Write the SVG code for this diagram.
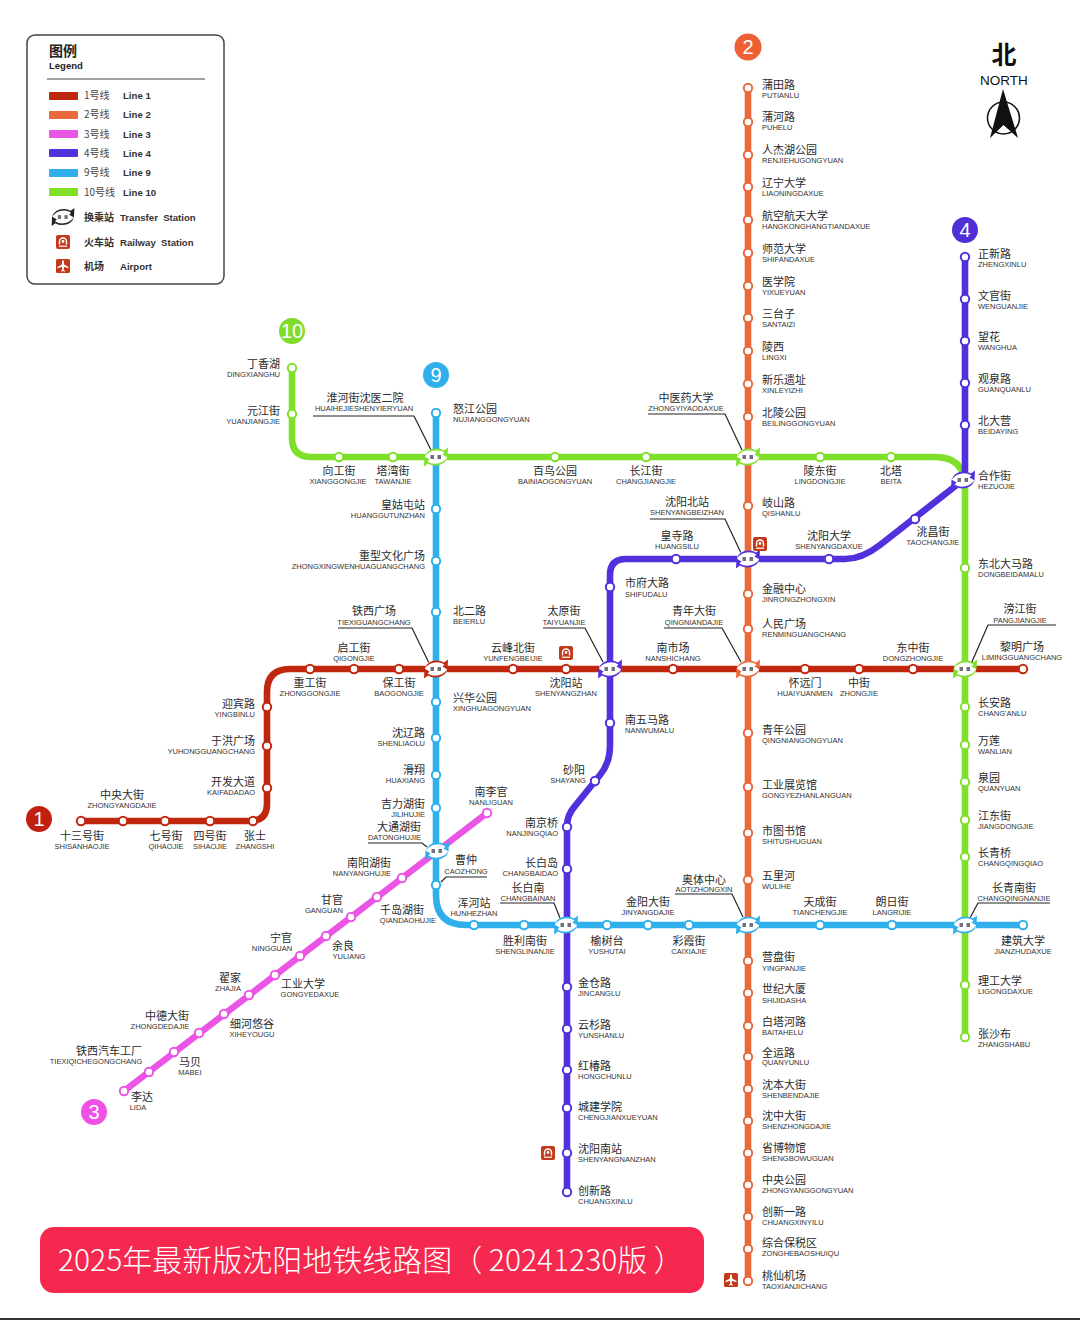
<svg xmlns="http://www.w3.org/2000/svg" width="1080" height="1320" viewBox="0 0 1080 1320">
<style>
text{font-family:"Liberation Sans","Noto Sans CJK SC",sans-serif}
.c{font-family:"Noto Sans CJK SC",sans-serif;font-size:11px;fill:#2a2a2a}
.e{font-size:7.5px;fill:#333}
.m{text-anchor:middle}.r{text-anchor:end}
.l{fill:none;stroke-width:6.600;stroke-linecap:round;stroke-linejoin:round}
.ld{fill:none;stroke:#222;stroke-width:1.200}
.s{fill:#fff;stroke-width:2}
.n1{stroke:#c0270f}.n2{stroke:#e9693c}.n3{stroke:#ea55e6}.n4{stroke:#5230dc}.n9{stroke:#2fb0ec}.n10{stroke:#7fe02c}
.k1{color:#c0270f}.k2{color:#e9693c}.k3{color:#ea55e6}.k4{color:#5230dc}.k9{color:#2fb0ec}.k10{color:#7fe02c}.k0{color:#222}
.b{font-size:20px;fill:#fff;text-anchor:middle}
.lg{font-family:"Noto Sans CJK SC",sans-serif;font-size:10px;fill:#444}
.lb{font-size:9.600px;font-weight:bold;fill:#333}
.lc{font-family:"Noto Sans CJK SC",sans-serif;font-size:10px;font-weight:bold;fill:#333}
</style>
<defs>
<path id="sw" d="M-11.500 0Q-9-8.500 1-8.500Q5-8.500 8-6.500L12-9.500L11.500 0.500L6.500-2.500L8.500-4.500Q5-6.800 1-6.800Q-7-6.800-11.500 0Z" fill="currentColor"/>
<g id="xf">
<rect x="-11" y="-7.500" width="22" height="15" rx="7" fill="#fff"/>
<use href="#sw"/>
<use href="#sw" transform="rotate(180)"/>
<rect x="-5.500" y="-2" width="3.500" height="4" fill="#334" opacity=".7"/>
<rect x="1.500" y="-2" width="3.500" height="4" fill="#334" opacity=".7"/>
</g>
<g id="rail">
<rect x="-7" y="-7" width="14" height="14" rx="2" fill="#c23a1c"/>
<path d="M-3.500 2.500V-0.500A3.500 3.500 0 0 1 3.500-0.500V2.500" fill="none" stroke="#fff" stroke-width="1.400"/>
<circle r="1.400" cy="-0.500" fill="#fff"/>
<path d="M-4 4.200H4" stroke="#fff" stroke-width="1.200"/>
</g>
<g id="air">
<rect x="-7" y="-7" width="14" height="14" rx="1.500" fill="#c23a1c"/>
<path d="M-0.800-5.500H0.800L1.100-1.500L5.500 1V2.300L1 0.800L0.700 3.800L2 5V5.700L0 5L-2 5.700V5L-0.700 3.800L-1 0.800L-5.500 2.300V1L-1.100-1.500Z" fill="#fff"/>
</g>
</defs>
<rect width="1080" height="1320" fill="#fff"/>
<rect y="1318" width="1080" height="2" fill="#333"/>

<g id="legend">
<rect x="27" y="35" width="197" height="249" rx="8" fill="#fff" stroke="#444" stroke-width="1.500"/>
<text x="49" y="56" style="font-family:'Noto Sans CJK SC',sans-serif;font-size:14px;font-weight:bold;fill:#222">图例</text>
<text x="49" y="68.500" style="font-size:9.500px;font-weight:bold;fill:#222">Legend</text>
<path d="M47 79H205" stroke="#444" stroke-width="1.200"/>
<rect x="49" y="92" width="29" height="8" rx="1" fill="#c0270f"/><text class="lg" x="84" y="99">1号线</text><text class="lb" x="123" y="99">Line 1</text>
<rect x="49" y="111" width="29" height="8" rx="1" fill="#e9693c"/><text class="lg" x="84" y="118">2号线</text><text class="lb" x="123" y="118">Line 2</text>
<rect x="49" y="130" width="29" height="8" rx="1" fill="#ea55e6"/><text class="lg" x="84" y="138">3号线</text><text class="lb" x="123" y="138">Line 3</text>
<rect x="49" y="149" width="29" height="8" rx="1" fill="#5230dc"/><text class="lg" x="84" y="157">4号线</text><text class="lb" x="123" y="157">Line 4</text>
<rect x="49" y="169" width="29" height="8" rx="1" fill="#2fb0ec"/><text class="lg" x="84" y="176">9号线</text><text class="lb" x="123" y="176">Line 9</text>
<rect x="49" y="188" width="29" height="8" rx="1" fill="#7fe02c"/><text class="lg" x="84" y="196">10号线</text><text class="lb" x="123" y="196">Line 10</text>
<use href="#xf" class="k0" transform="translate(63,217) scale(.95)"/>
<text class="lc" x="84" y="221">换乘站</text><text class="lb" x="120" y="221" xml:space="preserve">Transfer  Station</text>
<use href="#rail" transform="translate(63,242)"/>
<text class="lc" x="84" y="246">火车站</text><text class="lb" x="120" y="246" xml:space="preserve">Railway  Station</text>
<use href="#air" transform="translate(63,266)"/>
<text class="lc" x="84" y="270">机场</text><text class="lb" x="120" y="270">Airport</text>
</g>

<g id="north">
<text x="1004" y="63.500" text-anchor="middle" style="font-family:'Noto Sans CJK SC',sans-serif;font-size:25px;font-weight:bold;fill:#111">北</text>
<text x="1004" y="84.500" text-anchor="middle" style="font-size:13.500px;fill:#111">NORTH</text>
<circle cx="1003.500" cy="118" r="16" fill="none" stroke="#111" stroke-width="1.500"/>
<path d="M1003 89L990 138L1003.500 125L1018 138Z" fill="#111"/>
</g>

<g id="connectors">
<path class="l n3" d="M124 1091L487 813"/>
<path class="l n1" d="M81 821H250Q267 821 267 804V692Q267 669 290 669H1023"/>
<path class="l n2" d="M748 88V1281"/>
<path class="l n10" d="M292 368V438Q292 457 312 457H935Q965 457 965 487V1037"/>
<path class="l n9" d="M436 413V895Q436 925 466 925H1023"/>
<path class="l n4" d="M965 257V470Q965 478 958 484L880 545Q862 559 845 559H626Q610 559 610 575V745Q610 763 600 775L575 806Q567 815 567 826V1192"/>
<g id="leaders">
<path class="ld" d="M313 416H414L431 450"/>
<path class="ld" d="M648 414H725L742 450"/>
<path class="ld" d="M650 519H725L741 553"/>
<path class="ld" d="M338 628H412L429 663"/>
<path class="ld" d="M543 628H585L603 662"/>
<path class="ld" d="M664 628H722L741 662"/>
<path class="ld" d="M368 843H422L427 847"/>
<path class="ld" d="M487 877H446L441 882"/>
<path class="ld" d="M500 903H554L560 918"/>
<path class="ld" d="M675 894H732L743 917"/>
<path class="ld" d="M1056 625H988L971 664"/>
<path class="ld" d="M1050 903H978L970 918"/>
</g>
</g>

<g id="badges">
<circle cx="748" cy="47" r="13.500" fill="#ee5f33"/><text class="b" x="748" y="54">2</text>
<circle cx="965" cy="230" r="13" fill="#4f2fd8"/><text class="b" x="965" y="237">4</text>
<circle cx="292" cy="331" r="13" fill="#7fdc2a"/><text class="b" x="292" y="338">10</text>
<circle cx="436" cy="375" r="13" fill="#2fb0ec"/><text class="b" x="436" y="382">9</text>
<circle cx="39" cy="819" r="13" fill="#c0200f"/><text class="b" x="39" y="826">1</text>
<circle cx="94" cy="1112" r="13" fill="#ef50e6"/><text class="b" x="94" y="1119">3</text>
</g>

<g id="line2">
<g id="s-putianlu"><circle class="s n2" cx="748" cy="88" r="4.200"/><text class="c" x="762" y="89">蒲田路</text><text class="e" x="762" y="98">PUTIANLU</text></g>
<g id="s-puhelu"><circle class="s n2" cx="748" cy="122" r="4.200"/><text class="c" x="762" y="121">蒲河路</text><text class="e" x="762" y="130">PUHELU</text></g>
<g id="s-renjiehu"><circle class="s n2" cx="748" cy="155" r="4.200"/><text class="c" x="762" y="154">人杰湖公园</text><text class="e" x="762" y="163">RENJIEHUGONGYUAN</text></g>
<g id="s-liaoning"><circle class="s n2" cx="748" cy="187" r="4.200"/><text class="c" x="762" y="187">辽宁大学</text><text class="e" x="762" y="196">LIAONINGDAXUE</text></g>
<g id="s-hangkong"><circle class="s n2" cx="748" cy="220" r="4.200"/><text class="c" x="762" y="220">航空航天大学</text><text class="e" x="762" y="229">HANGKONGHANGTIANDAXUE</text></g>
<g id="s-shifan"><circle class="s n2" cx="748" cy="253" r="4.200"/><text class="c" x="762" y="253">师范大学</text><text class="e" x="762" y="262">SHIFANDAXUE</text></g>
<g id="s-yixueyuan"><circle class="s n2" cx="748" cy="286" r="4.200"/><text class="c" x="762" y="286">医学院</text><text class="e" x="762" y="295">YIXUEYUAN</text></g>
<g id="s-santaizi"><circle class="s n2" cx="748" cy="318" r="4.200"/><text class="c" x="762" y="318">三台子</text><text class="e" x="762" y="327">SANTAIZI</text></g>
<g id="s-lingxi"><circle class="s n2" cx="748" cy="351" r="4.200"/><text class="c" x="762" y="351">陵西</text><text class="e" x="762" y="360">LINGXI</text></g>
<g id="s-xinle"><circle class="s n2" cx="748" cy="384" r="4.200"/><text class="c" x="762" y="384">新乐遗址</text><text class="e" x="762" y="393">XINLEYIZHI</text></g>
<g id="s-beiling"><circle class="s n2" cx="748" cy="417" r="4.200"/><text class="c" x="762" y="417">北陵公园</text><text class="e" x="762" y="426">BEILINGGONGYUAN</text></g>
<g id="s-qishan"><circle class="s n2" cx="748" cy="506" r="4.200"/><text class="c" x="762" y="507">岐山路</text><text class="e" x="762" y="516">QISHANLU</text></g>
<g id="s-jinrong"><circle class="s n2" cx="748" cy="594" r="4.200"/><text class="c" x="762" y="593">金融中心</text><text class="e" x="762" y="602">JINRONGZHONGXIN</text></g>
<g id="s-renmin"><circle class="s n2" cx="748" cy="629" r="4.200"/><text class="c" x="762" y="628">人民广场</text><text class="e" x="762" y="637">RENMINGUANGCHANG</text></g>
<g id="s-qingnian"><circle class="s n2" cx="748" cy="733" r="4.200"/><text class="c" x="762" y="734">青年公园</text><text class="e" x="762" y="743">QINGNIANGONGYUAN</text></g>
<g id="s-gongye"><circle class="s n2" cx="748" cy="787" r="4.200"/><text class="c" x="762" y="789">工业展览馆</text><text class="e" x="762" y="798">GONGYEZHANLANGUAN</text></g>
<g id="s-shitu"><circle class="s n2" cx="748" cy="833" r="4.200"/><text class="c" x="762" y="835">市图书馆</text><text class="e" x="762" y="844">SHITUSHUGUAN</text></g>
<g id="s-wulihe"><circle class="s n2" cx="748" cy="880" r="4.200"/><text class="c" x="762" y="880">五里河</text><text class="e" x="762" y="889">WULIHE</text></g>
<g id="s-yingpan"><circle class="s n2" cx="748" cy="961" r="4.200"/><text class="c" x="762" y="961">营盘街</text><text class="e" x="762" y="971">YINGPANJIE</text></g>
<g id="s-shiji"><circle class="s n2" cx="748" cy="993" r="4.200"/><text class="c" x="762" y="993">世纪大厦</text><text class="e" x="762" y="1003">SHIJIDASHA</text></g>
<g id="s-baita"><circle class="s n2" cx="748" cy="1026" r="4.200"/><text class="c" x="762" y="1026">白塔河路</text><text class="e" x="762" y="1035">BAITAHELU</text></g>
<g id="s-quanyun"><circle class="s n2" cx="748" cy="1057" r="4.200"/><text class="c" x="762" y="1057">全运路</text><text class="e" x="762" y="1065">QUANYUNLU</text></g>
<g id="s-shenben"><circle class="s n2" cx="748" cy="1089" r="4.200"/><text class="c" x="762" y="1089">沈本大街</text><text class="e" x="762" y="1098">SHENBENDAJIE</text></g>
<g id="s-shenzhong"><circle class="s n2" cx="748" cy="1121" r="4.200"/><text class="c" x="762" y="1120">沈中大街</text><text class="e" x="762" y="1129">SHENZHONGDAJIE</text></g>
<g id="s-shengbo"><circle class="s n2" cx="748" cy="1153" r="4.200"/><text class="c" x="762" y="1152">省博物馆</text><text class="e" x="762" y="1161">SHENGBOWUGUAN</text></g>
<g id="s-zhongyang"><circle class="s n2" cx="748" cy="1185" r="4.200"/><text class="c" x="762" y="1184">中央公园</text><text class="e" x="762" y="1193">ZHONGYANGGONGYUAN</text></g>
<g id="s-chuangxin1"><circle class="s n2" cx="748" cy="1217" r="4.200"/><text class="c" x="762" y="1216">创新一路</text><text class="e" x="762" y="1225">CHUANGXINYILU</text></g>
<g id="s-zonghe"><circle class="s n2" cx="748" cy="1249" r="4.200"/><text class="c" x="762" y="1247">综合保税区</text><text class="e" x="762" y="1256">ZONGHEBAOSHUIQU</text></g>
<g id="s-taoxian"><circle class="s n2" cx="748" cy="1281" r="4.200"/><text class="c" x="762" y="1280">桃仙机场</text><text class="e" x="762" y="1289">TAOXIANJICHANG</text></g>
</g>

<g id="line4">
<g id="s-zhengxin"><circle class="s n4" cx="965" cy="257" r="4.200"/><text class="c" x="978" y="258">正新路</text><text class="e" x="978" y="267">ZHENGXINLU</text></g>
<g id="s-wenguan"><circle class="s n4" cx="965" cy="299" r="4.200"/><text class="c" x="978" y="300">文官街</text><text class="e" x="978" y="309">WENGUANJIE</text></g>
<g id="s-wanghua"><circle class="s n4" cx="965" cy="341" r="4.200"/><text class="c" x="978" y="341">望花</text><text class="e" x="978" y="350">WANGHUA</text></g>
<g id="s-guanquan"><circle class="s n4" cx="965" cy="383" r="4.200"/><text class="c" x="978" y="383">观泉路</text><text class="e" x="978" y="392">GUANQUANLU</text></g>
<g id="s-beidaying"><circle class="s n4" cx="965" cy="425" r="4.200"/><text class="c" x="978" y="425">北大营</text><text class="e" x="978" y="434">BEIDAYING</text></g>
<g id="s-taochang"><circle class="s n4" cx="915" cy="519" r="4.200"/><text class="c m" x="933" y="536">洮昌街</text><text class="e m" x="933" y="545">TAOCHANGJIE</text></g>
<g id="s-shenda"><circle class="s n4" cx="829" cy="559" r="4.200"/><text class="c m" x="829" y="540">沈阳大学</text><text class="e m" x="829" y="549">SHENYANGDAXUE</text></g>
<g id="s-huangsi"><circle class="s n4" cx="676" cy="559" r="4.200"/><text class="c m" x="677" y="540">皇寺路</text><text class="e m" x="677" y="549">HUANGSILU</text></g>
<g id="s-shifu"><circle class="s n4" cx="610" cy="587" r="4.200"/><text class="c" x="625" y="587">市府大路</text><text class="e" x="625" y="597">SHIFUDALU</text></g>
<g id="s-nanwuma"><circle class="s n4" cx="610" cy="723" r="4.200"/><text class="c" x="625" y="724">南五马路</text><text class="e" x="625" y="733">NANWUMALU</text></g>
<g id="s-shayang"><circle class="s n4" cx="595" cy="781" r="4.200"/><text class="c m" x="574" y="774">砂阳</text><text class="e m" x="568" y="783">SHAYANG</text></g>
<g id="s-nanjingqiao"><circle class="s n4" cx="567" cy="827" r="4.200"/><text class="c r" x="558" y="827">南京桥</text><text class="e r" x="558" y="836">NANJINGQIAO</text></g>
<g id="s-changbaidao"><circle class="s n4" cx="567" cy="869" r="4.200"/><text class="c r" x="558" y="867">长白岛</text><text class="e r" x="558" y="876">CHANGBAIDAO</text></g>
<g id="s-jincang"><circle class="s n4" cx="567" cy="987" r="4.200"/><text class="c" x="578" y="987">金仓路</text><text class="e" x="578" y="996">JINCANGLU</text></g>
<g id="s-yunshan"><circle class="s n4" cx="567" cy="1029" r="4.200"/><text class="c" x="578" y="1029">云杉路</text><text class="e" x="578" y="1038">YUNSHANLU</text></g>
<g id="s-hongchun"><circle class="s n4" cx="567" cy="1070" r="4.200"/><text class="c" x="578" y="1070">红椿路</text><text class="e" x="578" y="1079">HONGCHUNLU</text></g>
<g id="s-chengjian"><circle class="s n4" cx="567" cy="1108" r="4.200"/><text class="c" x="578" y="1111">城建学院</text><text class="e" x="578" y="1120">CHENGJIANXUEYUAN</text></g>
<g id="s-shenyangnan"><circle class="s n4" cx="567" cy="1153" r="4.200"/><text class="c" x="578" y="1153">沈阳南站</text><text class="e" x="578" y="1162">SHENYANGNANZHAN</text></g>
<g id="s-chuangxinlu"><circle class="s n4" cx="567" cy="1192" r="4.200"/><text class="c" x="578" y="1195">创新路</text><text class="e" x="578" y="1204">CHUANGXINLU</text></g>
</g>

<g id="line10">
<g id="s-dingxiang"><circle class="s n10" cx="292" cy="368" r="4.200"/><text class="c r" x="280" y="368">丁香湖</text><text class="e r" x="280" y="377">DINGXIANGHU</text></g>
<g id="s-yuanjiang"><circle class="s n10" cx="292" cy="414" r="4.200"/><text class="c r" x="280" y="415">元江街</text><text class="e r" x="280" y="424">YUANJIANGJIE</text></g>
<g id="s-xianggong"><circle class="s n10" cx="339" cy="457" r="4.200"/><text class="c m" x="339" y="475">向工街</text><text class="e m" x="338" y="484">XIANGGONGJIE</text></g>
<g id="s-tawan"><circle class="s n10" cx="393" cy="457" r="4.200"/><text class="c m" x="393" y="475">塔湾街</text><text class="e m" x="393" y="484">TAWANJIE</text></g>
<g id="s-bainiao"><circle class="s n10" cx="555" cy="457" r="4.200"/><text class="c m" x="555" y="475">百鸟公园</text><text class="e m" x="555" y="484">BAINIAOGONGYUAN</text></g>
<g id="s-changjiang"><circle class="s n10" cx="646" cy="457" r="4.200"/><text class="c m" x="646" y="475">长江街</text><text class="e m" x="646" y="484">CHANGJIANGJIE</text></g>
<g id="s-lingdong"><circle class="s n10" cx="820" cy="457" r="4.200"/><text class="c m" x="820" y="475">陵东街</text><text class="e m" x="820" y="484">LINGDONGJIE</text></g>
<g id="s-beita"><circle class="s n10" cx="891" cy="457" r="4.200"/><text class="c m" x="891" y="475">北塔</text><text class="e m" x="891" y="484">BEITA</text></g>
<g id="s-dongbei"><circle class="s n10" cx="965" cy="568" r="4.200"/><text class="c" x="978" y="568">东北大马路</text><text class="e" x="978" y="577">DONGBEIDAMALU</text></g>
<g id="s-changan"><circle class="s n10" cx="965" cy="707" r="4.200"/><text class="c" x="978" y="707">长安路</text><text class="e" x="978" y="716">CHANG'ANLU</text></g>
<g id="s-wanlian"><circle class="s n10" cx="965" cy="745" r="4.200"/><text class="c" x="978" y="745">万莲</text><text class="e" x="978" y="754">WANLIAN</text></g>
<g id="s-quanyuan"><circle class="s n10" cx="965" cy="782" r="4.200"/><text class="c" x="978" y="782">泉园</text><text class="e" x="978" y="791">QUANYUAN</text></g>
<g id="s-jiangdong"><circle class="s n10" cx="965" cy="820" r="4.200"/><text class="c" x="978" y="820">江东街</text><text class="e" x="978" y="829">JIANGDONGJIE</text></g>
<g id="s-changqing"><circle class="s n10" cx="965" cy="857" r="4.200"/><text class="c" x="978" y="857">长青桥</text><text class="e" x="978" y="866">CHANGQINGQIAO</text></g>
<g id="s-ligong"><circle class="s n10" cx="965" cy="985" r="4.200"/><text class="c" x="978" y="985">理工大学</text><text class="e" x="978" y="994">LIGONGDAXUE</text></g>
<g id="s-zhangshabu"><circle class="s n10" cx="965" cy="1037" r="4.200"/><text class="c" x="978" y="1038">张沙布</text><text class="e" x="978" y="1047">ZHANGSHABU</text></g>
</g>

<g id="line1">
<g id="s-shisan"><circle class="s n1" cx="81" cy="821" r="4.200"/><text class="c m" x="82" y="840">十三号街</text><text class="e m" x="82" y="849">SHISANHAOJIE</text></g>
<g id="s-zhongyangdj"><circle class="s n1" cx="123" cy="821" r="4.200"/><text class="c m" x="122" y="799">中央大街</text><text class="e m" x="122" y="808">ZHONGYANGDAJIE</text></g>
<g id="s-qihao"><circle class="s n1" cx="165" cy="821" r="4.200"/><text class="c m" x="166" y="840">七号街</text><text class="e m" x="166" y="849">QIHAOJIE</text></g>
<g id="s-sihao"><circle class="s n1" cx="210" cy="821" r="4.200"/><text class="c m" x="210" y="840">四号街</text><text class="e m" x="210" y="849">SIHAOJIE</text></g>
<g id="s-zhangshi"><circle class="s n1" cx="253" cy="821" r="4.200"/><text class="c m" x="255" y="840">张士</text><text class="e m" x="255" y="849">ZHANGSHI</text></g>
<g id="s-kaifa"><circle class="s n1" cx="267" cy="788" r="4.200"/><text class="c r" x="255" y="786">开发大道</text><text class="e r" x="255" y="795">KAIFADADAO</text></g>
<g id="s-yuhong"><circle class="s n1" cx="267" cy="746" r="4.200"/><text class="c r" x="255" y="745">于洪广场</text><text class="e r" x="255" y="754">YUHONGGUANGCHANG</text></g>
<g id="s-yingbin"><circle class="s n1" cx="267" cy="707" r="4.200"/><text class="c r" x="255" y="708">迎宾路</text><text class="e r" x="255" y="717">YINGBINLU</text></g>
<g id="s-zhonggong"><circle class="s n1" cx="310" cy="669" r="4.200"/><text class="c m" x="310" y="687">重工街</text><text class="e m" x="310" y="696">ZHONGGONGJIE</text></g>
<g id="s-qigong"><circle class="s n1" cx="354" cy="669" r="4.200"/><text class="c m" x="354" y="652">启工街</text><text class="e m" x="354" y="661">QIGONGJIE</text></g>
<g id="s-baogong"><circle class="s n1" cx="399" cy="669" r="4.200"/><text class="c m" x="399" y="687">保工街</text><text class="e m" x="399" y="696">BAOGONGJIE</text></g>
<g id="s-yunfeng"><circle class="s n1" cx="513" cy="669" r="4.200"/><text class="c m" x="513" y="652">云峰北街</text><text class="e m" x="513" y="661">YUNFENGBEIJIE</text></g>
<g id="s-shenyangzhan"><circle class="s n1" cx="566" cy="669" r="4.200"/><text class="c m" x="566" y="687">沈阳站</text><text class="e m" x="566" y="696">SHENYANGZHAN</text></g>
<g id="s-nanshichang"><circle class="s n1" cx="673" cy="669" r="4.200"/><text class="c m" x="673" y="652">南市场</text><text class="e m" x="673" y="661">NANSHICHANG</text></g>
<g id="s-huaiyuan"><circle class="s n1" cx="805" cy="669" r="4.200"/><text class="c m" x="805" y="687">怀远门</text><text class="e m" x="805" y="696">HUAIYUANMEN</text></g>
<g id="s-zhongjie"><circle class="s n1" cx="859" cy="669" r="4.200"/><text class="c m" x="859" y="687">中街</text><text class="e m" x="859" y="696">ZHONGJIE</text></g>
<g id="s-dongzhong"><circle class="s n1" cx="913" cy="669" r="4.200"/><text class="c m" x="913" y="652">东中街</text><text class="e m" x="913" y="661">DONGZHONGJIE</text></g>
<g id="s-liming"><circle class="s n1" cx="1023" cy="669" r="4.200"/><text class="c m" x="1022" y="651">黎明广场</text><text class="e m" x="1022" y="660">LIMINGGUANGCHANG</text></g>
</g>

<g id="line9">
<g id="s-nujiang"><circle class="s n9" cx="436" cy="413" r="4.200"/><text class="c" x="453" y="413">怒江公园</text><text class="e" x="453" y="422">NUJIANGGONGYUAN</text></g>
<g id="s-huanggu"><circle class="s n9" cx="436" cy="509" r="4.200"/><text class="c r" x="425" y="509">皇姑屯站</text><text class="e r" x="425" y="518">HUANGGUTUNZHAN</text></g>
<g id="s-zhongxing"><circle class="s n9" cx="436" cy="561" r="4.200"/><text class="c r" x="425" y="560">重型文化广场</text><text class="e r" x="425" y="569">ZHONGXINGWENHUAGUANGCHANG</text></g>
<g id="s-beier"><circle class="s n9" cx="436" cy="612" r="4.200"/><text class="c" x="453" y="615">北二路</text><text class="e" x="453" y="624">BEIERLU</text></g>
<g id="s-xinghua"><circle class="s n9" cx="436" cy="702" r="4.200"/><text class="c" x="453" y="702">兴华公园</text><text class="e" x="453" y="711">XINGHUAGONGYUAN</text></g>
<g id="s-shenliao"><circle class="s n9" cx="436" cy="738" r="4.200"/><text class="c r" x="425" y="737">沈辽路</text><text class="e r" x="425" y="746">SHENLIAOLU</text></g>
<g id="s-huaxiang"><circle class="s n9" cx="436" cy="775" r="4.200"/><text class="c r" x="425" y="774">滑翔</text><text class="e r" x="425" y="783">HUAXIANG</text></g>
<g id="s-jilihu"><circle class="s n9" cx="436" cy="808" r="4.200"/><text class="c r" x="425" y="808">吉力湖街</text><text class="e r" x="425" y="817">JILIHUJIE</text></g>
<g id="s-caozhong"><circle class="s n9" cx="436" cy="885" r="4.200"/><text class="c m" x="466" y="864">曹仲</text><text class="e m" x="466" y="874">CAOZHONG</text></g>
<g id="s-hunhe"><circle class="s n9" cx="474" cy="925" r="4.200"/><text class="c m" x="474" y="907">浑河站</text><text class="e m" x="474" y="916">HUNHEZHAN</text></g>
<g id="s-shenglinan"><circle class="s n9" cx="524" cy="925" r="4.200"/><text class="c m" x="525" y="945">胜利南街</text><text class="e m" x="525" y="954">SHENGLINANJIE</text></g>
<g id="s-yushutai"><circle class="s n9" cx="607" cy="925" r="4.200"/><text class="c m" x="607" y="945">榆树台</text><text class="e m" x="607" y="954">YUSHUTAI</text></g>
<g id="s-jinyang"><circle class="s n9" cx="648" cy="925" r="4.200"/><text class="c m" x="648" y="906">金阳大街</text><text class="e m" x="648" y="915">JINYANGDAJIE</text></g>
<g id="s-caixia"><circle class="s n9" cx="689" cy="925" r="4.200"/><text class="c m" x="689" y="945">彩霞街</text><text class="e m" x="689" y="954">CAIXIAJIE</text></g>
<g id="s-tiancheng"><circle class="s n9" cx="820" cy="925" r="4.200"/><text class="c m" x="820" y="906">天成街</text><text class="e m" x="820" y="915">TIANCHENGJIE</text></g>
<g id="s-langri"><circle class="s n9" cx="892" cy="925" r="4.200"/><text class="c m" x="892" y="906">朗日街</text><text class="e m" x="892" y="915">LANGRIJIE</text></g>
<g id="s-jianzhu"><circle class="s n9" cx="1023" cy="925" r="4.200"/><text class="c m" x="1023" y="945">建筑大学</text><text class="e m" x="1023" y="954">JIANZHUDAXUE</text></g>
</g>

<g id="line3">
<g id="s-lida"><circle class="s n3" cx="124" cy="1091" r="4.200"/><text class="c m" x="142" y="1101">李达</text><text class="e m" x="138" y="1110">LIDA</text></g>
<g id="s-tiexiqiche"><circle class="s n3" cx="149" cy="1072" r="4.200"/><text class="c m" x="109" y="1055">铁西汽车工厂</text><text class="e m" x="96" y="1064">TIEXIQICHEGONGCHANG</text></g>
<g id="s-mabei"><circle class="s n3" cx="174" cy="1052" r="4.200"/><text class="c m" x="190" y="1066">马贝</text><text class="e m" x="190" y="1075">MABEI</text></g>
<g id="s-xihe"><circle class="s n3" cx="199" cy="1033" r="4.200"/><text class="c m" x="252" y="1028">细河悠谷</text><text class="e m" x="252" y="1037">XIHEYOUGU</text></g>
<g id="s-zhongde"><circle class="s n3" cx="224" cy="1014" r="4.200"/><text class="c m" x="167" y="1020">中德大街</text><text class="e m" x="160" y="1029">ZHONGDEDAJIE</text></g>
<g id="s-zhajia"><circle class="s n3" cx="249" cy="995" r="4.200"/><text class="c m" x="230" y="982">翟家</text><text class="e m" x="228" y="991">ZHAJIA</text></g>
<g id="s-gongyeda"><circle class="s n3" cx="275" cy="975" r="4.200"/><text class="c m" x="303" y="988">工业大学</text><text class="e m" x="310" y="997">GONGYEDAXUE</text></g>
<g id="s-ningguan"><circle class="s n3" cx="300" cy="956" r="4.200"/><text class="c m" x="281" y="942">宁官</text><text class="e m" x="272" y="951">NINGGUAN</text></g>
<g id="s-yuliang"><circle class="s n3" cx="326" cy="936" r="4.200"/><text class="c m" x="343" y="950">余良</text><text class="e m" x="349" y="959">YULIANG</text></g>
<g id="s-ganguan"><circle class="s n3" cx="351" cy="917" r="4.200"/><text class="c m" x="332" y="904">甘官</text><text class="e m" x="324" y="913">GANGUAN</text></g>
<g id="s-qiandao"><circle class="s n3" cx="377" cy="897" r="4.200"/><text class="c m" x="402" y="914">千岛湖街</text><text class="e m" x="408" y="923">QIANDAOHUJIE</text></g>
<g id="s-nanyang"><circle class="s n3" cx="402" cy="878" r="4.200"/><text class="c r" x="391" y="867">南阳湖街</text><text class="e r" x="391" y="876">NANYANGHUJIE</text></g>
<g id="s-nanliguan"><circle class="s n3" cx="487" cy="813" r="4.200"/><text class="c m" x="491" y="796">南李官</text><text class="e m" x="491" y="805">NANLIGUAN</text></g>
</g>

<g id="transfers">
<g id="t-huaihe"><use href="#xf" class="k10" x="436" y="457"/><text class="c m" x="365" y="402">淮河街沈医二院</text><text class="e m" x="364" y="411">HUAIHEJIESHENYIERYUAN</text></g>
<g id="t-zhongyiyao"><use href="#xf" class="k10" x="748" y="457"/><text class="c m" x="686" y="402">中医药大学</text><text class="e m" x="686" y="411">ZHONGYIYAODAXUE</text></g>
<g id="t-hezuo"><use href="#xf" class="k4" x="963" y="480"/><text class="c" x="978" y="480">合作街</text><text class="e" x="978" y="489">HEZUOJIE</text></g>
<g id="t-shenbei"><use href="#xf" class="k4" x="748" y="559"/><text class="c m" x="687" y="506">沈阳北站</text><text class="e m" x="687" y="515">SHENYANGBEIZHAN</text></g>
<g id="t-tiexi"><use href="#xf" class="k1" x="436" y="669"/><text class="c m" x="374" y="615">铁西广场</text><text class="e m" x="374" y="625">TIEXIGUANGCHANG</text></g>
<g id="t-taiyuan"><use href="#xf" class="k4" x="610" y="669"/><text class="c m" x="564" y="615">太原街</text><text class="e m" x="564" y="625">TAIYUANJIE</text></g>
<g id="t-qingnian"><use href="#xf" class="k2" x="748" y="669"/><text class="c m" x="694" y="615">青年大街</text><text class="e m" x="694" y="625">QINGNIANDAJIE</text></g>
<g id="t-pangjiang"><use href="#xf" class="k10" x="965" y="669"/><text class="c m" x="1020" y="613">滂江街</text><text class="e m" x="1020" y="623">PANGJIANGJIE</text></g>
<g id="t-datong"><use href="#xf" class="k9" x="437" y="851"/><text class="c r" x="421" y="831">大通湖街</text><text class="e r" x="421" y="840">DATONGHUJIE</text></g>
<g id="t-changbainan"><use href="#xf" class="k9" x="566" y="925"/><text class="c m" x="528" y="892">长白南</text><text class="e m" x="528" y="901">CHANGBAINAN</text></g>
<g id="t-aoti"><use href="#xf" class="k9" x="748" y="925"/><text class="c m" x="704" y="884">奥体中心</text><text class="e m" x="704" y="892">AOTIZHONGXIN</text></g>
<g id="t-changqingnan"><use href="#xf" class="k9" x="965" y="925"/><text class="c m" x="1014" y="892">长青南街</text><text class="e m" x="1014" y="901">CHANGQINGNANJIE</text></g>
</g>

<g id="facilities">
<use href="#rail" x="760" y="544"/>
<use href="#rail" x="566" y="653"/>
<use href="#rail" x="548" y="1153"/>
<use href="#air" x="731" y="1280"/>
</g>

<g id="title">
<rect x="40" y="1227" width="664" height="66" rx="14" fill="#f5294f"/>
<text x="58" y="1271" style="font-family:'Noto Sans CJK SC',sans-serif;font-size:30px;font-weight:300;fill:#fff" xml:space="preserve">2025年最新版沈阳地铁线路图（ 20241230版 ）</text>
</g>
</svg>
